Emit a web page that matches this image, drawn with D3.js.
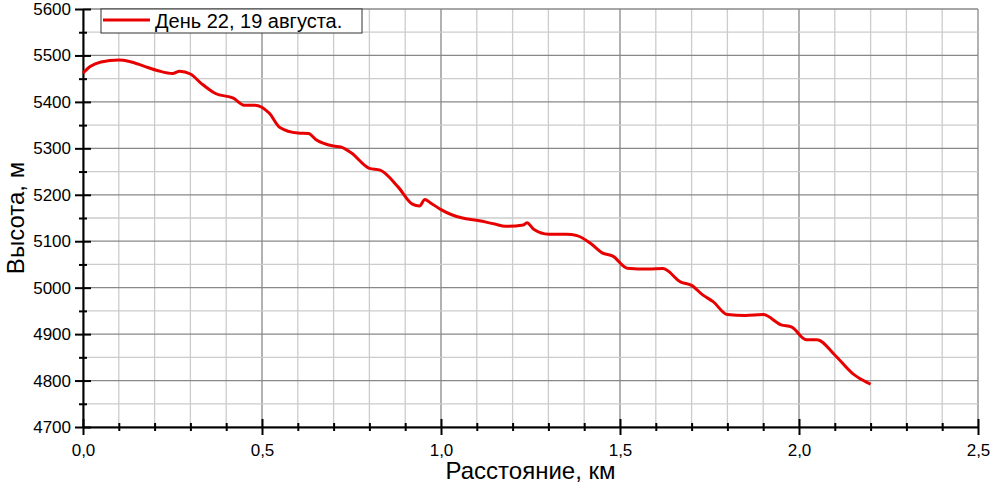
<!DOCTYPE html><html><head><meta charset="utf-8"><script src="https://cdn.jsdelivr.net/npm/d3@7"></script>
<style>body{margin:0;background:#fff}text{font-family:"Liberation Sans",Arial,sans-serif}</style></head><body><svg id="c" width="993" height="485"></svg>
<script>
const distKm=[0,0.02,0.05,0.10,0.13,0.17,0.21,0.25,0.27,0.30,0.33,0.37,0.42,0.45,0.48,0.52,0.55,0.60,0.63,0.65,0.70,0.72,0.75,0.80,0.83,0.88,0.92,0.94,0.955,0.97,1.00,1.03,1.06,1.10,1.15,1.18,1.23,1.24,1.26,1.30,1.35,1.38,1.42,1.45,1.48,1.52,1.58,1.62,1.67,1.70,1.73,1.76,1.80,1.85,1.90,1.95,1.98,2.02,2.05,2.10,2.15,2.18,2.20];
const altM=[5462,5476,5486,5490,5487,5477,5467,5461,5466,5460,5440,5418,5408,5393,5393,5376,5345,5333,5332,5319,5305,5303,5290,5257,5253,5217,5180,5176,5190,5183,5168,5157,5150,5145,5137,5132,5135,5140,5125,5115,5115,5112,5094,5075,5068,5042,5040,5041,5012,5005,4985,4970,4942,4940,4942,4920,4915,4888,4888,4855,4815,4800,4792];
const xTicks=[0,0.5,1.0,1.5,2.0,2.5];
const yTicks=[4700,4800,4900,5000,5100,5200,5300,5400,5500,5600];
const seriesName="День 22, 19 августа.";
const svg=d3.select("#c");
const L=83,R=978,T=9,B=427;
const x=d3.scaleLinear().domain([0,2.5]).range([L,R]);
const y=d3.scaleLinear().domain([4700,5600]).range([B,T]);
const g=svg.append("g");
d3.range(0,2.501,0.1).forEach(v=>{const major=Math.abs(v*2-Math.round(v*2))<1e-6;
 g.append("line").attr("x1",x(v)).attr("x2",x(v)).attr("y1",T).attr("y2",B).attr("stroke",major?"#888":"#ccc").attr("stroke-width",1.3);});
d3.range(4700,5601,50).forEach(v=>{const major=v%100===0;
 g.append("line").attr("x1",L).attr("x2",R).attr("y1",y(v)).attr("y2",y(v)).attr("stroke",major?"#888":"#ccc").attr("stroke-width",1.3);});
const fmt=d=>d3.format(".1f")(d).replace(".",",");
const xa=svg.append("g").attr("transform",`translate(0,${B})`).call(d3.axisBottom(x).tickValues(xTicks).tickFormat(fmt).tickSize(8).tickSizeOuter(0));
xa.selectAll(".tick line").attr("y1",-8);
svg.append("g").attr("transform",`translate(0,${B})`).call(d3.axisBottom(x).tickValues(d3.range(0.1,2.5,0.1).filter(v=>Math.abs(v*2-Math.round(v*2))>1e-6)).tickFormat("").tickSize(4).tickSizeOuter(0)).call(a=>{a.select(".domain").remove();a.selectAll("line").attr("y1",-4);});
const ya=svg.append("g").attr("transform",`translate(${L},0)`).call(d3.axisLeft(y).tickValues(yTicks).tickFormat(d3.format("d")).tickSize(8).tickSizeOuter(0));
ya.selectAll(".tick line").attr("x1",8);
svg.append("g").attr("transform",`translate(${L},0)`).call(d3.axisLeft(y).tickValues(d3.range(4750,5600,100)).tickFormat("").tickSize(4).tickSizeOuter(0)).call(a=>{a.select(".domain").remove();a.selectAll("line").attr("x1",4);});
svg.selectAll(".domain").attr("stroke","#000").attr("stroke-width",2);
svg.selectAll(".tick line").attr("stroke","#000").attr("stroke-width",2);
svg.selectAll(".tick text").attr("font-size",17).attr("fill","#000").style("font-family","Liberation Sans, Arial");
xa.selectAll(".tick text").attr("dy","1.05em");
ya.selectAll(".tick text").attr("x",-12);
const line=d3.line().x((d,i)=>x(distKm[i])).y(d=>y(d)).curve(d3.curveMonotoneX);
svg.append("path").attr("d",line(altM)).attr("fill","none").attr("stroke","#e80000").attr("stroke-width",3);
const lg=svg.append("g");
lg.append("rect").attr("x",101).attr("y",9).attr("width",261).attr("height",24).attr("fill","#fff").attr("stroke","#333").attr("stroke-width",1);
lg.append("line").attr("x1",103).attr("x2",150).attr("y1",20).attr("y2",20).attr("stroke","#e80000").attr("stroke-width",3);
lg.append("text").attr("x",155).attr("y",28).attr("font-size",20).text(seriesName);
svg.append("text").attr("x",(L+R)/2).attr("y",479).attr("text-anchor","middle").attr("font-size",24).text("Расстояние, км");
svg.append("text").attr("transform",`translate(24,${(T+B)/2}) rotate(-90)`).attr("text-anchor","middle").attr("font-size",24).text("Высота, м");
</script></body></html>
